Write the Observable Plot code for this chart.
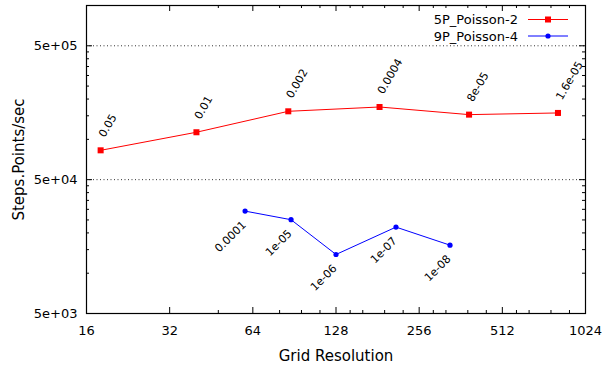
<!DOCTYPE html>
<html><head><meta charset="utf-8">
<script src="https://cdn.jsdelivr.net/npm/d3@7"></script>
<script src="https://cdn.jsdelivr.net/npm/@observablehq/plot@0.6"></script>
<style>body{margin:0;background:#fff} #chart{width:604px;height:365px}</style>
</head><body><div id="chart"></div>
<script>
// ---- data ----
const series1Name = "5P_Poisson-2";
const series2Name = "9P_Poisson-4";
const redX = [18, 40, 86, 184, 388, 814];
const redY = [82800, 113000, 162000, 174500, 153000, 157500];
const redLabels = ["0.05", "0.01", "0.002", "0.0004", "8e-05", "1.6e-05"];
const blueX = [60, 88, 128, 211, 331];
const blueY = [29100, 25100, 13800, 22100, 16200];
const blueLabels = ["0.0001", "1e-05", "1e-06", "1e-07", "1e-08"];

const xTicks = [16, 32, 64, 128, 256, 512, 1024];
const xTickLabels = ["16", "32", "64", "128", "256", "512", "1024"];
const xMinorTicks = [48, 80, 96, 112, 144, 160, 192, 224, 288, 320, 384, 448, 576, 640, 768, 896];
const yTicks = [5e3, 5e4, 5e5];
const yTickLabels = ["5e+03", "5e+04", "5e+05"];
const yMinorTicks = [1e4, 1.5e4, 2e4, 2.5e4, 3e4, 3.5e4, 4e4, 4.5e4, 1e5, 1.5e5, 2e5, 2.5e5, 3e5, 3.5e5, 4e5, 4.5e5];
const yGrid = [5e4, 5e5];
const xTitle = "Grid Resolution";
const yTitle = "Steps.Points/sec";

const red = redX.map((x, i) => ({x, y: redY[i], label: redLabels[i]}));
const blue = blueX.map((x, i) => ({x, y: blueY[i], label: blueLabels[i]}));
const yTickData = yTicks.map((y, i) => ({y, label: yTickLabels[i]}));

// ---- layout ----
const W = 604, H = 365, mL = 86, mR = 19, mT = 5, mB = 52;
const pw = W - mL - mR, ph = H - mT - mB;
const RED = "#ff0000", BLUE = "#0000ff";
const FONT = "DejaVu Sans";

const chart = Plot.plot({
  width: W, height: H,
  marginLeft: mL, marginRight: mR, marginTop: mT, marginBottom: mB,
  style: {fontFamily: FONT, fontSize: "13px", background: "#fff", color: "#000"},
  x: {type: "log", base: 2, domain: [16, 1024]},
  y: {type: "log", domain: [5e3, 1e6], axis: null},
  marks: [
    Plot.ruleY(yGrid, {y: d => d, stroke: "#333", strokeDasharray: "1,2.5", strokeWidth: 1}),
    // ticks (inward, mirrored)
    Plot.ruleX(xTicks, {x: d => d, insetTop: ph - 6, stroke: "#000"}),
    Plot.ruleX(xTicks, {x: d => d, insetBottom: ph - 6, stroke: "#000"}),
    Plot.ruleX(xMinorTicks, {x: d => d, insetTop: ph - 3, stroke: "#000"}),
    Plot.ruleX(xMinorTicks, {x: d => d, insetBottom: ph - 3, stroke: "#000"}),
    Plot.ruleY(yTicks, {y: d => d, insetRight: pw - 6, stroke: "#000"}),
    Plot.ruleY(yTicks, {y: d => d, insetLeft: pw - 6, stroke: "#000"}),
    Plot.ruleY(yMinorTicks, {y: d => d, insetRight: pw - 3, stroke: "#000"}),
    Plot.ruleY(yMinorTicks, {y: d => d, insetLeft: pw - 3, stroke: "#000"}),
    Plot.axisX(xTicks, {tickSize: 0, tickPadding: 12, tickFormat: d => xTickLabels[xTicks.indexOf(d)], label: null, fontSize: 13}),
    Plot.text(yTickData, {y: "y", text: "label", frameAnchor: "left", textAnchor: "end", lineAnchor: "middle", dx: -9, fontSize: 13, fill: "#000"}),
    Plot.text([xTitle], {frameAnchor: "bottom", lineAnchor: "middle", textAnchor: "middle", dy: 43, fontSize: 15, fill: "#000"}),
    Plot.text([yTitle], {frameAnchor: "left", lineAnchor: "middle", textAnchor: "middle", dx: -67, rotate: -90, fontSize: 15, fill: "#000"}),
    // series
    Plot.line(red, {x: "x", y: "y", stroke: RED, strokeWidth: 1}),
    Plot.dot(red, {x: "x", y: "y", symbol: "square", r: 3.4, fill: RED, stroke: null}),
    Plot.text(red, {x: "x", y: "y", text: "label", rotate: -60, textAnchor: "start", dx: 1, dy: -14, fontSize: 11, fill: "#000"}),
    Plot.line(blue, {x: "x", y: "y", stroke: BLUE, strokeWidth: 1}),
    Plot.dot(blue, {x: "x", y: "y", symbol: "circle", r: 2.6, fill: BLUE, stroke: null}),
    Plot.text(blue, {x: "x", y: "y", text: "label", rotate: -45, textAnchor: "end", dx: -1, dy: 12, fontSize: 11, fill: "#000"}),
    Plot.frame({stroke: "#000", strokeWidth: 1.2})
  ]
});

// legend inside the plot (top right)
const svg = d3.select(chart);
const legend = [{name: series1Name, color: RED, sym: "square"}, {name: series2Name, color: BLUE, sym: "circle"}];
const lg = svg.append("g").attr("font-family", FONT).attr("font-size", 13);
legend.forEach((s, i) => {
  const y = 19.5 + i * 16.5;
  lg.append("text").attr("x", 518).attr("y", y).attr("dy", "0.35em").attr("text-anchor", "end").attr("fill", "#000").text(s.name);
  lg.append("line").attr("x1", 528).attr("x2", 568).attr("y1", y).attr("y2", y).attr("stroke", s.color).attr("stroke-width", 1);
  if (s.sym === "square") lg.append("rect").attr("x", 545).attr("y", y - 3).attr("width", 6).attr("height", 6).attr("fill", s.color);
  else lg.append("circle").attr("cx", 548).attr("cy", y).attr("r", 2.6).attr("fill", s.color);
});

document.getElementById("chart").appendChild(chart);
</script></body></html>
